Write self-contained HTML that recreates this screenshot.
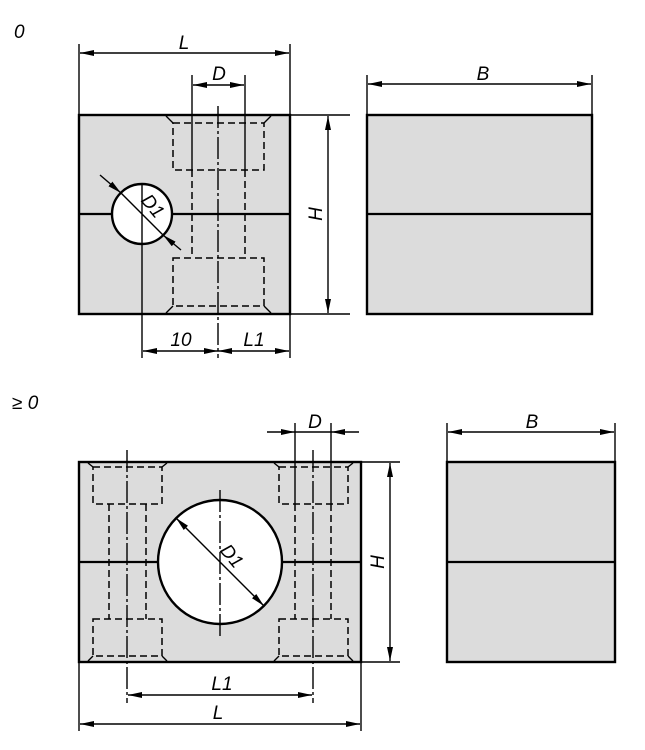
<!DOCTYPE html>
<html><head><meta charset="utf-8"><style>
html,body{margin:0;padding:0;background:#fff}
svg{display:block}
text{font-family:"Liberation Sans",sans-serif;font-style:italic;font-size:19px;fill:#000}
</style></head><body>
<svg width="645" height="750" viewBox="0 0 645 750" xmlns="http://www.w3.org/2000/svg">
<defs>
<marker id="a" viewBox="0 0 14 6" refX="14" refY="3" markerWidth="14" markerHeight="6" markerUnits="userSpaceOnUse" orient="auto-start-reverse"><path d="M0,0 L14,3 L0,6 z" fill="#000"/></marker>
</defs>
<g stroke="#000" fill="none">
<rect x="79" y="115" width="211" height="199" fill="#dcdcdc" stroke-width="2.4"/>
<line x1="79" y1="214" x2="290" y2="214" stroke-width="2.2"/>
<circle cx="142" cy="214" r="30" fill="#fff" stroke-width="2.4"/>
<g stroke-width="1.5" stroke-dasharray="7,4">
<rect x="173" y="123" width="91" height="47"/>
<rect x="173" y="258" width="91" height="48"/>
<line x1="192" y1="170" x2="192" y2="258"/><line x1="245" y1="170" x2="245" y2="258"/>
</g>
<g stroke-width="1.4">
<path d="M166,116 L173,123 M271,116 L264,123 M166,313 L173,306 M271,313 L264,306"/>
<line x1="218" y1="106" x2="218" y2="358" stroke-dasharray="22,3,3,3"/>
<line x1="142" y1="184" x2="142" y2="358"/>
<line x1="79" y1="44" x2="79" y2="115"/><line x1="290" y1="44" x2="290" y2="358"/>
<line x1="192" y1="75" x2="192" y2="170"/><line x1="245" y1="75" x2="245" y2="170"/>
<line x1="290" y1="115" x2="350" y2="115"/><line x1="290" y1="314" x2="350" y2="314"/>
<line x1="80" y1="53" x2="289" y2="53" marker-start="url(#a)" marker-end="url(#a)"/>
<line x1="193" y1="85" x2="244" y2="85" marker-start="url(#a)" marker-end="url(#a)"/>
<line x1="328" y1="116" x2="328" y2="313" marker-start="url(#a)" marker-end="url(#a)"/>
<line x1="143" y1="351" x2="218" y2="351" marker-start="url(#a)" marker-end="url(#a)"/>
<line x1="218" y1="351" x2="289" y2="351" marker-start="url(#a)" marker-end="url(#a)"/>
<line x1="100" y1="175" x2="121" y2="193" marker-end="url(#a)"/>
<line x1="121" y1="193" x2="163" y2="235"/>
<line x1="181" y1="250" x2="163" y2="235" marker-end="url(#a)"/>
</g>
<rect x="367" y="115" width="225" height="199" fill="#dcdcdc" stroke-width="2.4"/>
<line x1="367" y1="214" x2="592" y2="214" stroke-width="2.2"/>
<g stroke-width="1.4">
<line x1="367" y1="75" x2="367" y2="115"/><line x1="592" y1="75" x2="592" y2="115"/>
<line x1="368" y1="84" x2="591" y2="84" marker-start="url(#a)" marker-end="url(#a)"/>
</g>
<rect x="79" y="462" width="282" height="200" fill="#dcdcdc" stroke-width="2.4"/>
<line x1="79" y1="562" x2="361" y2="562" stroke-width="2.2"/>
<circle cx="220" cy="562" r="62" fill="#fff" stroke-width="2.4"/>
<g stroke-width="1.5" stroke-dasharray="7,4">
<rect x="93" y="467" width="69" height="37"/>
<rect x="93" y="619" width="69" height="37"/>
<line x1="109" y1="504" x2="109" y2="619"/><line x1="146" y1="504" x2="146" y2="619"/>
<rect x="279" y="467" width="69" height="37"/>
<rect x="279" y="619" width="69" height="37"/>
<line x1="295" y1="504" x2="295" y2="619"/><line x1="331" y1="504" x2="331" y2="619"/>
</g>
<g stroke-width="1.4">
<path d="M88,463 L93,467 M167,463 L162,467 M88,661 L93,656 M167,661 L162,656"/>
<path d="M274,463 L279,467 M353,463 L348,467 M274,661 L279,656 M353,661 L348,656"/>
<line x1="127" y1="450" x2="127" y2="703" stroke-dasharray="22,3,3,3"/>
<line x1="313" y1="450" x2="313" y2="703" stroke-dasharray="22,3,3,3"/>
<line x1="220" y1="490" x2="220" y2="636" stroke-dasharray="22,3,3,3"/>
<line x1="295" y1="423" x2="295" y2="504"/><line x1="331" y1="423" x2="331" y2="504"/>
<line x1="267" y1="432" x2="295" y2="432" marker-end="url(#a)"/>
<line x1="295" y1="432" x2="331" y2="432"/>
<line x1="359" y1="432" x2="331" y2="432" marker-end="url(#a)"/>
<line x1="361" y1="462" x2="400" y2="462"/><line x1="361" y1="662" x2="400" y2="662"/>
<line x1="390" y1="463" x2="390" y2="661" marker-start="url(#a)" marker-end="url(#a)"/>
<line x1="79" y1="662" x2="79" y2="731"/><line x1="361" y1="662" x2="361" y2="731"/>
<line x1="128" y1="695" x2="312" y2="695" marker-start="url(#a)" marker-end="url(#a)"/>
<line x1="80" y1="724" x2="360" y2="724" marker-start="url(#a)" marker-end="url(#a)"/>
<line x1="176" y1="518" x2="264" y2="606" marker-start="url(#a)" marker-end="url(#a)"/>
</g>
<rect x="447" y="462" width="168" height="200" fill="#dcdcdc" stroke-width="2.4"/>
<line x1="447" y1="562" x2="615" y2="562" stroke-width="2.2"/>
<g stroke-width="1.4">
<line x1="447" y1="423" x2="447" y2="462"/><line x1="615" y1="423" x2="615" y2="462"/>
<line x1="448" y1="432" x2="614" y2="432" marker-start="url(#a)" marker-end="url(#a)"/>
</g>
</g>
<text x="14" y="38">0</text>
<text x="12" y="409">≥ 0</text>
<text x="184" y="49" text-anchor="middle">L</text>
<text x="219" y="80" text-anchor="middle">D</text>
<text x="181" y="346" text-anchor="middle">10</text>
<text x="254" y="346" text-anchor="middle">L1</text>
<text transform="translate(322,214) rotate(-90)" text-anchor="middle">H</text>
<text transform="translate(148,210) rotate(50)" text-anchor="middle">D1</text>
<text x="483" y="80" text-anchor="middle">B</text>
<text x="315" y="428" text-anchor="middle">D</text>
<text transform="translate(384,562) rotate(-90)" text-anchor="middle">H</text>
<text transform="translate(227,560) rotate(50)" text-anchor="middle">D1</text>
<text x="222" y="690" text-anchor="middle">L1</text>
<text x="218" y="719" text-anchor="middle">L</text>
<text x="532" y="428" text-anchor="middle">B</text>
</svg>
</body></html>
